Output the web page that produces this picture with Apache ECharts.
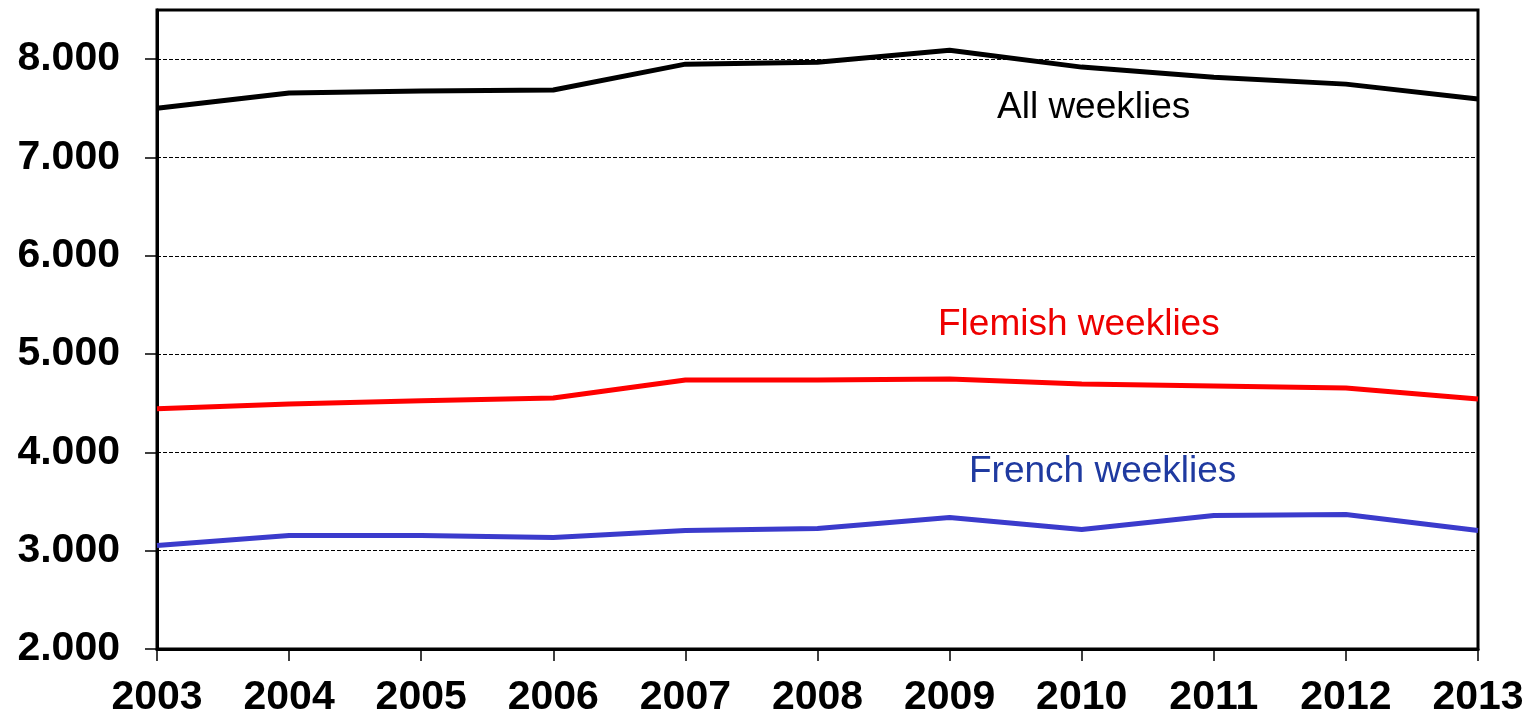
<!DOCTYPE html>
<html>
<head>
<meta charset="utf-8">
<script src="https://cdn.jsdelivr.net/npm/echarts@6/dist/echarts.min.js"></script>
<style>html,body{margin:0;padding:0;background:#fff}#c{width:1530px;height:718px}</style>
</head>
<body>
<div id="c"></div>
<script>
const years = ['2003','2004','2005','2006','2007','2008','2009','2010','2011','2012','2013'];
const allWeeklies = [7500, 7655, 7675, 7686, 7949, 7969, 8091, 7919, 7817, 7746, 7594];
const flemishWeeklies = [4443, 4493, 4524, 4554, 4736, 4736, 4747, 4696, 4676, 4655, 4544];
const frenchWeeklies = [3054, 3155, 3155, 3135, 3206, 3226, 3338, 3216, 3358, 3368, 3206];
const yTicks = [2000, 3000, 4000, 5000, 6000, 7000, 8000];
const seriesNames = ['All weeklies', 'Flemish weeklies', 'French weeklies'];

const chart = echarts.init(document.getElementById('c'));
const fmt = v => (v / 1000).toFixed(3);
chart.setOption({
  animation: false,
  grid: { left: 157, right: 52, top: 10, bottom: 67, show: true, borderColor: '#000', borderWidth: 3, backgroundColor: 'transparent' },
  xAxis: {
    type: 'category', data: years, boundaryGap: false,
    axisLine: { lineStyle: { color: '#000', width: 3 } },
    axisTick: { show: true, length: 12, lineStyle: { color: '#000', width: 1.5 } },
    axisLabel: { color: '#000', fontFamily: 'Liberation Sans', fontWeight: 'bold', fontSize: 41, margin: 28, interval: 0 },
    splitLine: { show: false }
  },
  yAxis: {
    type: 'value', min: 2000, max: 8500, interval: 1000,
    axisLine: { show: true, lineStyle: { color: '#000', width: 3 } },
    axisTick: { show: true, length: 12, customValues: yTicks, lineStyle: { color: '#000', width: 1.5 } },
    axisLabel: { color: '#000', fontFamily: 'Liberation Sans', fontWeight: 'bold', fontSize: 41, margin: 37, customValues: yTicks, formatter: fmt },
    splitLine: { show: true, lineStyle: { color: '#000', width: 1, type: [4, 2] } }
  },
  series: [
    { name: seriesNames[0], type: 'line', data: allWeeklies, symbol: 'none', lineStyle: { color: '#000', width: 5 }, z: 5 },
    { name: seriesNames[1], type: 'line', data: flemishWeeklies, symbol: 'none', lineStyle: { color: '#ff0000', width: 5 }, z: 5 },
    { name: seriesNames[2], type: 'line', data: frenchWeeklies, symbol: 'none', lineStyle: { color: '#3b3bcc', width: 5 }, z: 5 }
  ],
  graphic: [
    { type: 'text', left: 997, top: 89, style: { text: seriesNames[0], fill: '#000', font: '37px "Liberation Sans"' } },
    { type: 'text', left: 938, top: 306, style: { text: seriesNames[1], fill: '#ee0000', font: '37px "Liberation Sans"' } },
    { type: 'text', left: 969, top: 453, style: { text: seriesNames[2], fill: '#1f3aa0', font: '37px "Liberation Sans"' } }
  ]
});
</script>
</body>
</html>
